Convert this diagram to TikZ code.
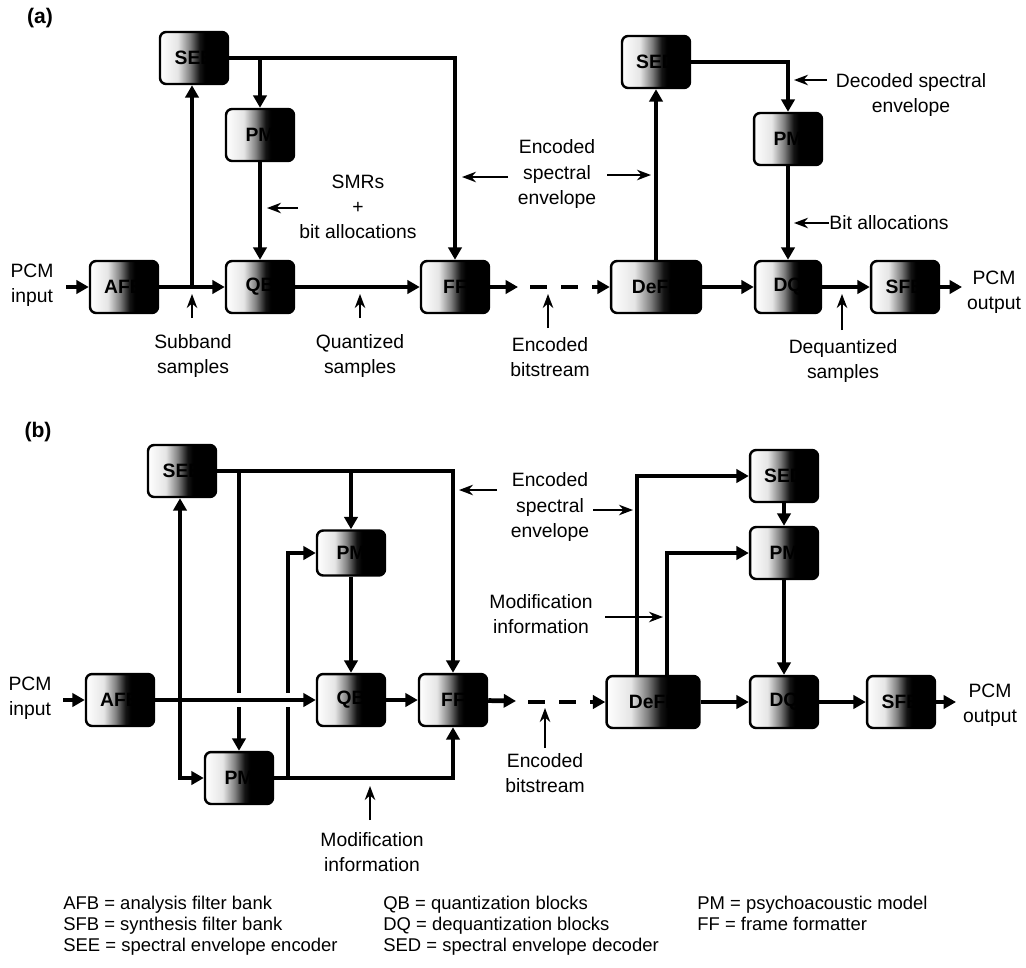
\documentclass[tikz,border=0pt]{standalone}
\usepackage{fontspec}
\setmainfont{Liberation Sans}
\usetikzlibrary{arrows.meta,positioning,shadings}

\pgfdeclarehorizontalshading{boxfill}{100bp}{color(0bp)=(white); color(25bp)=(white); color(38bp)=(black!10); color(47bp)=(black!50); color(54bp)=(black!92); color(58bp)=(black); color(100bp)=(black)}

\tikzset{
  blk/.style={draw, line width=1.4pt, rounded corners=3.5pt, shade, shading=boxfill,
    minimum width=1.36cm, minimum height=1.04cm, inner sep=0pt,
    font=\bfseries\fontsize{11}{13}\selectfont},
  conn/.style={line width=2.7pt, -{Triangle[length=7pt,width=7.5pt]}},
  note/.style={line width=1pt, -{Stealth[length=8pt,width=6pt]}},
  lbl/.style={align=center, inner sep=0pt, font=\fontsize{11}{14.4}\selectfont},
  leg/.style={align=left, inner sep=0pt, font=\fontsize{10.5}{11.95}\selectfont},
  tag/.style={inner sep=0pt, font=\bfseries\fontsize{12}{14}\selectfont},
}

\begin{document}
\begin{tikzpicture}[x=0.02cm, y=-0.02cm]
  \useasboundingbox (0,0) rectangle (1026,967);

  % ---------- (a) ----------
  \node[tag] (tagA) at (40,18) {(a)};

  \node[blk] (afbA) at (124,287) {AFB};
  \node[blk] (seeA) at (194,58) {SEE};
  \node[blk] (pmA) at (260,135) {PM};
  \node[blk] (qbA) at (260,287) {QB};
  \node[blk] (ffA) at (455,287) {FF};
  \node[blk, minimum width=1.8cm] (deffA) at (656,287) {DeFF};
  \node[blk] (sedA) at (656,62) {SED};
  \node[blk] (pmA2) at (788,139) {PM};
  \node[blk, minimum width=1.32cm] (dqA) at (788,287) {DQ};
  \node[blk] (sfbA) at (905,287) {SFB};

  \coordinate (inA) at (66,287);
  \coordinate (jA) at (192,287);
  \coordinate (bsA) at (518,287);
  \coordinate (dsA) at (530,287);
  \coordinate (outA) at (962,287);

  \draw[conn] (inA) -- (afbA);
  \draw[conn] (afbA) -- (qbA);
  \draw[conn] (jA) -- (jA |- seeA.south);
  \draw[conn] (seeA.east) -| (ffA.north);
  \draw[conn] (seeA.east -| pmA) -- (pmA.north);
  \draw[conn] (pmA) -- (qbA);
  \draw[conn] (qbA) -- (ffA);
  \draw[conn] (ffA) -- (bsA);
  \draw[conn, dash pattern=on 9.7pt off 8pt] (dsA) -- (deffA);
  \draw[conn] (deffA.north) -- (sedA.south);
  \draw[conn] (sedA.east) -| (pmA2.north);
  \draw[conn] (pmA2) -- (dqA);
  \draw[conn] (deffA) -- (dqA);
  \draw[conn] (dqA) -- (sfbA);
  \draw[conn] (sfbA) -- (outA);

  \node[lbl] (pcmInA) at (32,285) {PCM\\input};
  \node[lbl] (pcmOutA) at (994,292) {PCM\\output};
  \node[lbl] (subA) at (193,356) {Subband\\samples};
  \node[lbl] (quanA) at (360,356) {Quantized\\samples};
  \node[lbl] (bitsA) at (550,357) {Encoded\\bitstream};
  \node[lbl] (dequA) at (843,361) {Dequantized\\samples};
  \node[lbl] (smrA) at (358,207) {SMRs\\+\\bit allocations};
  \node[lbl] (eseA) at (557,174) {Encoded\\spectral\\envelope};
  \node[lbl] (decA) at (911,95) {Decoded spectral\\envelope};
  \node[lbl, anchor=west] (balA) at (829,223) {Bit allocations};

  \draw[note] (192,318) -- (192,294);
  \draw[note] (360,318) -- (360,294);
  \draw[note] (548,328) -- (548,294);
  \draw[note] (842,330) -- (842,294);
  \draw[note] (298,208) -- (267,208);
  \draw[note] (508,177) -- (462,177);
  \draw[note] (607,175) -- (651,175);
  \draw[note] (827,80) -- (794,80);
  \draw[note] (balA.west) -- (794,223);

  % ---------- (b) ----------
  \node[tag] (tagB) at (38,432) {(b)};

  \node[blk] (afbB) at (120,700) {AFB};
  \node[blk] (seeB) at (182,471) {SEE};
  \node[blk, minimum height=0.9cm] (pmB1) at (351,553) {PM};
  \node[blk] (qbB) at (351,700) {QB};
  \node[blk] (ffB) at (453,700) {FF};
  \node[blk] (pmB2) at (239,778) {PM};
  \node[blk, minimum width=1.86cm] (deffB) at (653,702) {DeFF};
  \node[blk] (sedB) at (784,476) {SED};
  \node[blk] (pmB3) at (784,553) {PM};
  \node[blk] (dqB) at (784,702) {DQ};
  \node[blk] (sfbB) at (901,702) {SFB};

  \coordinate (inB) at (63,700);
  \coordinate (jB) at (180,700);
  \coordinate (jB2) at (288,778);
  \coordinate (bsB) at (516,701);
  \coordinate (dsB) at (528,702);
  \coordinate (outB) at (956,702);

  % lines that pass under the main signal path
  \draw[conn] (seeB.east -| pmB2) -- (pmB2.north);
  \draw[conn] (jB2) |- (pmB1.west);
  \draw[conn, preaction={draw=white, line width=8pt, -, shorten >=4pt, shorten <=4pt}] (afbB) -- (qbB);

  \draw[conn] (inB) -- (afbB);
  \draw[conn] (jB) -- (jB |- seeB.south);
  \draw[conn] (jB) |- (pmB2.west);
  \draw[conn] (seeB.east) -| (ffB.north);
  \draw[conn] (seeB.east -| pmB1) -- (pmB1.north);
  \draw[conn] (pmB1) -- (qbB);
  \draw[conn] (qbB) -- (ffB);
  \draw[conn] (pmB2.east) -| (ffB.south);
  \draw[conn] (ffB) -- (bsB);
  \draw[conn, dash pattern=on 9.7pt off 8pt] (dsB) -- (deffB);
  \draw[conn] ([xshift=-0.32cm]deffB.north) |- (sedB.west);
  \draw[conn] ([xshift=0.28cm]deffB.north) |- (pmB3.west);
  \draw[conn] (sedB) -- (pmB3);
  \draw[conn] (pmB3) -- (dqB);
  \draw[conn] (deffB) -- (dqB);
  \draw[conn] (dqB) -- (sfbB);
  \draw[conn] (sfbB) -- (outB);

  \node[lbl] (pcmInB) at (30,698) {PCM\\input};
  \node[lbl] (pcmOutB) at (990,705) {PCM\\output};
  \node[lbl] (eseB) at (550,507) {Encoded\\spectral\\envelope};
  \node[lbl] (modB) at (541,614) {Modification\\information};
  \node[lbl] (bitsB) at (545,773) {Encoded\\bitstream};
  \node[lbl] (modB2) at (372,852) {Modification\\information};

  \draw[note] (497,490) -- (459,490);
  \draw[note] (593,510) -- (633,510);
  \draw[note] (605,617) -- (663,617);
  \draw[note] (545,748) -- (545,708);
  \draw[note] (370,820) -- (370,786);

  % ---------- legend ----------
  \node[leg, anchor=north west] (legA) at (63,896) {AFB = analysis filter bank\\SFB = synthesis filter bank\\SEE = spectral envelope encoder};
  \node[leg, anchor=north west] (legB) at (383,896) {QB = quantization blocks\\DQ = dequantization blocks\\SED = spectral envelope decoder};
  \node[leg, anchor=north west] (legC) at (697,896) {PM = psychoacoustic model\\FF = frame formatter};
\end{tikzpicture}
\end{document}
